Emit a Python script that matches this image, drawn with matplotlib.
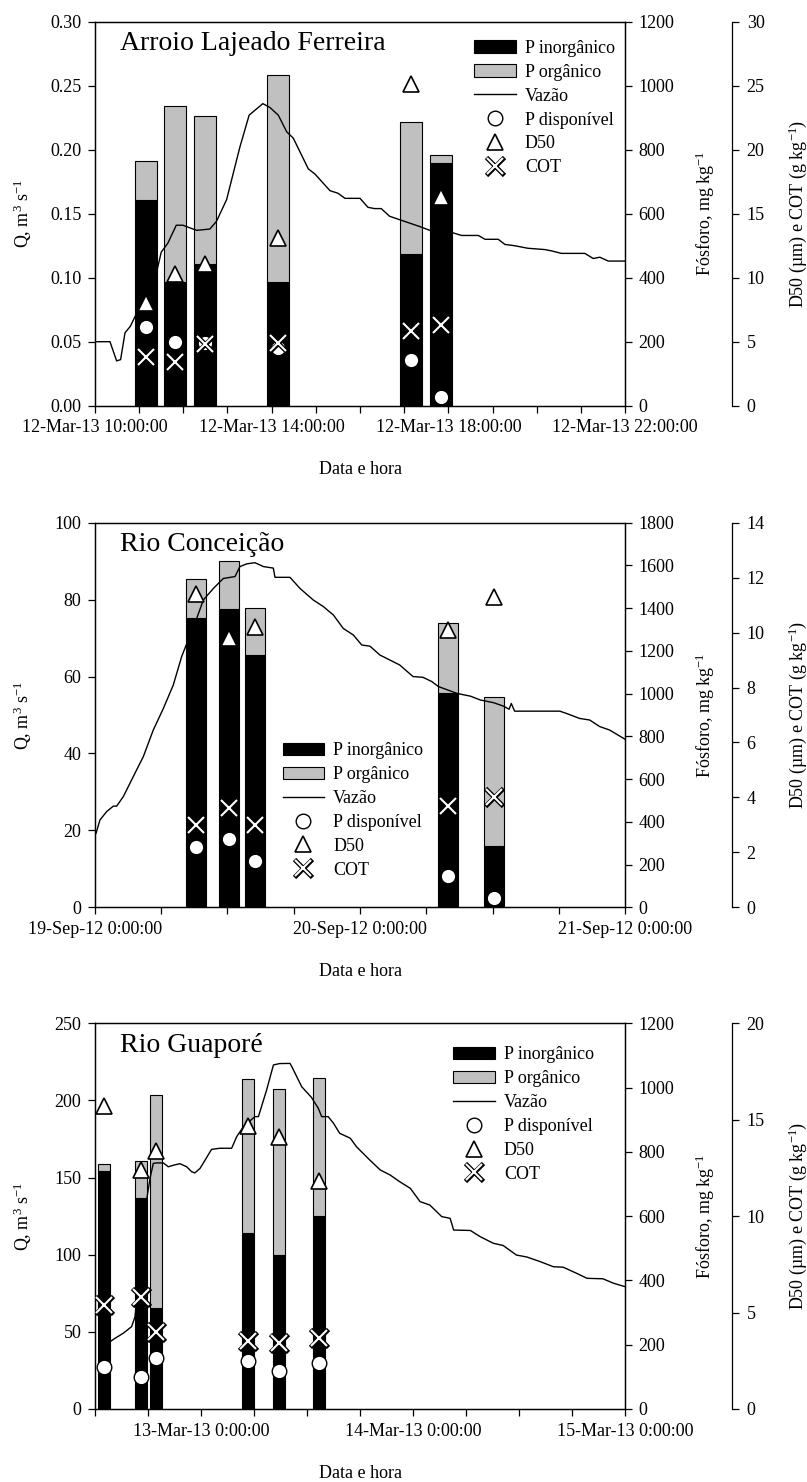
import matplotlib
matplotlib.use('Agg')
import matplotlib.pyplot as plt
import numpy as np

plt.rcParams['font.family'] = ['Liberation Serif', 'DejaVu Serif']
plt.rcParams['mathtext.fontset'] = 'custom'
plt.rcParams['mathtext.rm'] = 'Liberation Serif'
plt.rcParams['mathtext.it'] = 'Liberation Serif:italic'
plt.rcParams['mathtext.bf'] = 'Liberation Serif:bold'
plt.rcParams['font.size'] = 13
plt.rcParams['axes.linewidth'] = 0.9

# ---------------- Arroio Lajeado Ferreira (horas desde 12-Mar-13 10:00) ----------------
alf_t_q = [0, 0.34, 0.49, 0.58, 0.68, 0.8, 1.4, 1.5, 1.65, 1.84, 1.99, 2.3, 2.6, 2.75, 2.98,
           3.28, 3.49, 3.8, 3.96, 4.15, 4.34, 4.49, 4.83, 4.98, 5.32, 5.5, 5.66, 6.0, 6.18,
           6.33, 6.48, 6.67, 7.35, 7.58, 8.11, 8.3, 8.68, 8.83, 9.13, 9.28, 9.5, 9.8, 10.18,
           10.33, 10.56, 11.09, 11.28, 11.43, 11.62, 12.0]
alf_q = [0.050, 0.050, 0.035, 0.036, 0.057, 0.062, 0.105, 0.120, 0.127, 0.141, 0.141, 0.137,
         0.138, 0.144, 0.161, 0.202, 0.227, 0.236, 0.233, 0.227, 0.214, 0.209, 0.185, 0.181,
         0.168, 0.166, 0.162, 0.162, 0.155, 0.154, 0.154, 0.148, 0.140, 0.137, 0.135, 0.133,
         0.133, 0.130, 0.130, 0.126, 0.125, 0.123, 0.122, 0.121, 0.119, 0.119, 0.115, 0.116,
         0.113, 0.113]
alf_t = [1.16, 1.82, 2.49, 4.15, 7.16, 7.83]
alf_p_inorg = [642, 388, 443, 388, 474, 757]
alf_p_org = [123, 549, 463, 645, 414, 26]
alf_p_disp = [245, 200, 195, 179, 143, 28]
alf_d50 = [8.0, 10.3, 11.1, 13.1, 25.1, 16.3]
alf_cot = [3.8, 3.4, 4.8, 4.9, 5.8, 6.3]
alf_xticks = list(range(0, 13))
alf_xlabels = ['12-Mar-13 10:00:00', '', '', '', '12-Mar-13 14:00:00', '', '', '',
               '12-Mar-13 18:00:00', '', '', '', '12-Mar-13 22:00:00']

# ---------------- Rio Conceição (horas desde 19-Sep-12 0:00) ----------------
rc_t_q = [0.09, 0.45, 1.06, 1.66, 1.96, 2.57, 3.47, 4.38, 5.28, 6.19, 7.09, 7.85, 9.21, 9.81,
          10.72, 11.62, 12.68, 13.13, 13.74, 14.49, 15.25, 16.15, 16.3, 17.66, 18.57, 19.77,
          20.68, 21.59, 22.49, 23.4, 24.16, 24.9, 25.8, 26.7, 27.6, 28.8, 29.7, 30.5, 31.1,
          32.8, 34.0, 34.9, 36.1, 37.0, 37.5, 37.7, 38.0, 42.1, 42.7, 43.9, 44.8, 45.7, 46.6, 48.0]
rc_q = [19.2, 22.7, 24.9, 26.3, 26.3, 28.8, 34.0, 39.2, 46.1, 51.7, 57.8, 65.2, 75.1, 79.9,
        82.9, 85.5, 86.0, 88.6, 89.3, 89.6, 88.6, 88.2, 85.8, 85.8, 82.9, 79.9, 78.2, 76.0,
        72.5, 70.8, 68.2, 67.9, 65.6, 64.3, 63.0, 60.0, 59.8, 58.7, 57.4, 55.6, 54.9, 53.9,
        53.2, 52.3, 51.5, 53.0, 51.0, 51.0, 50.4, 49.1, 48.7, 47.0, 46.1, 43.7]
rc_t = [9.12, 12.11, 14.47, 31.97, 36.14]
rc_p_inorg = [1352, 1398, 1179, 1001, 287]
rc_p_org = [183, 224, 220, 331, 699]
rc_p_disp = [284, 318, 217, 147, 45]
rc_d50 = [11.4, 9.8, 10.2, 10.1, 11.3]
rc_cot = [3.0, 3.6, 3.0, 3.7, 4.0]
rc_xticks = list(range(0, 49, 6))
rc_xlabels = ['19-Sep-12 0:00:00', '', '', '', '20-Sep-12 0:00:00', '', '', '',
              '21-Sep-12 0:00:00']

# ---------------- Rio Guaporé (horas desde 12-Mar-13 12:00) ----------------
rg_t_q = [1.0, 1.7, 2.26, 3.2, 4.15, 4.53, 5.85, 6.23, 6.6, 6.98, 7.74, 8.3, 8.87, 9.62, 10.38,
          10.94, 11.3, 11.9, 13.2, 14.15, 15.47, 16.04, 16.8, 18.1, 18.5, 19.43, 20.2, 20.9,
          22.08, 22.27, 23.4, 24.5, 25.28, 25.66, 26.4, 27.0, 27.7, 28.9, 29.6, 31.1, 32.3,
          33.4, 34.5, 35.7, 36.8, 37.9, 39.25, 40.2, 40.6, 42.5, 43.6, 45.1, 46.2, 47.7, 48.9,
          50.4, 51.9, 53.0, 54.5, 55.7, 57.5, 58.7, 60.0]
rg_q = [42, 43.6, 45.8, 49.1, 53.4, 59.8, 135.5, 149.5, 159.2, 159.5, 159.5, 157, 158, 159,
        157, 153.8, 153, 156, 168.3, 169, 169, 176.5, 183, 189.5, 189.5, 206.8, 223, 223.9,
        224, 222, 208.9, 202, 194.9, 189.5, 189.5, 185.2, 178.7, 175.5, 170, 161.4, 154.9,
        151.7, 147.3, 143, 134.4, 132.2, 124.7, 123.6, 116, 115.7, 111.7, 107.4, 106, 99.8,
        98.5, 95.5, 92.2, 91.9, 88, 84.7, 84.4, 81.5, 79.3]
rg_t = [1.04, 5.19, 6.89, 17.36, 20.87, 25.38]
rg_p_inorg = [740, 657, 313, 549, 479, 600]
rg_p_org = [21, 116, 665, 479, 516, 429]
rg_p_disp = [130, 101, 158, 149, 119, 142]
rg_d50 = [15.7, 12.4, 13.4, 14.7, 14.1, 11.8]
rg_cot = [5.4, 5.8, 4.0, 3.5, 3.4, 3.7]
rg_xticks = list(range(0, 61, 6))
rg_xlabels = ['', '', '13-Mar-13 0:00:00', '', '', '', '14-Mar-13 0:00:00', '', '', '',
              '15-Mar-13 0:00:00']

rotulos = ['P inorgânico', 'P orgânico', 'Vazão', 'P disponível', 'D50', 'COT']

fig = plt.figure(figsize=(8.07, 14.82), dpi=100)


def painel(pos, titulo, t_q, q, t, p_inorg, p_org, p_disp, d50, cot, largura,
           q_max, q_step, q_fmt, p_max, d_max, d_step, x_max, xticks, xlabels, leg_xy):
    ax1 = fig.add_axes(pos)
    ax2 = ax1.twinx()
    ax3 = ax1.twinx()
    # barras atras da linha de vazao, marcadores por cima
    ax2.set_zorder(1)
    ax1.set_zorder(2)
    ax3.set_zorder(3)
    ax1.patch.set_visible(False)

    b1 = ax2.bar(t, p_inorg, largura, color='black', edgecolor='black', lw=0.8)
    b2 = ax2.bar(t, p_org, largura, bottom=p_inorg, color='#c0c0c0', edgecolor='black', lw=0.8)
    circ, = ax2.plot(t, p_disp, 'o', ms=10.5, mfc='white', mec='black', mew=1)
    linha, = ax1.plot(t_q, q, color='black', lw=1)
    tri, = ax3.plot(t, d50, '^', ms=12, mfc='white', mec='black', mew=1.2)
    xf, = ax3.plot(t, cot, 'x', ms=12.5, mec='black', mew=3.4)
    xb, = ax3.plot(t, cot, 'x', ms=11.5, mec='white', mew=1.5)

    ax1.set_xlim(0, x_max)
    ax1.set_xticks(xticks)
    ax1.set_xticklabels(xlabels)
    ax1.set_ylim(0, q_max)
    ax1.set_yticks(np.arange(0, q_max + q_step / 2, q_step))
    ax1.yaxis.set_major_formatter(plt.FormatStrFormatter(q_fmt))
    ax2.set_ylim(0, p_max)
    ax2.set_yticks(np.arange(0, p_max + 1, 200))
    ax3.set_ylim(0, d_max)
    ax3.set_yticks(np.arange(0, d_max + 0.01, d_step))

    ax1.tick_params(direction='out', length=4.8, width=0.9, pad=5, labelsize=13,
                    top=False, right=False)
    ax2.tick_params(axis='y', direction='out', length=4.8, width=0.9, pad=5, labelsize=13)
    ax3.tick_params(axis='y', direction='out', length=4.8, width=0.9, pad=6, labelsize=13)

    ax3.spines['right'].set_position(('axes', 1.2013))
    for s in ['top', 'bottom', 'left']:
        ax3.spines[s].set_visible(False)

    ax1.set_ylabel('Q, m$^3$ s$^{-1}$', fontsize=13)
    ax1.yaxis.set_label_coords(-0.115, 0.5)
    ax2.set_ylabel('Fósforo, mg kg$^{-1}$', fontsize=13)
    ax2.yaxis.set_label_coords(1.13, 0.5)
    ax3.set_ylabel('D50 (µm) e COT (g kg$^{-1}$)', fontsize=13)
    ax3.yaxis.set_label_coords(1.304, 0.5)
    ax1.set_xlabel('Data e hora', fontsize=13)
    ax1.xaxis.set_label_coords(0.5, -0.144)

    ax1.text(0.047, 0.926, titulo, transform=ax1.transAxes, fontsize=20, va='baseline')

    ax3.legend([b1, b2, linha, circ, tri, (xf, xb)], rotulos, loc='upper left',
               bbox_to_anchor=leg_xy, frameon=False, borderpad=0, borderaxespad=0,
               handlelength=2.3, handletextpad=0.5, labelspacing=0.38, numpoints=1,
               fontsize=13)


painel([0.1177, 0.72625, 0.6568, 0.2591], 'Arroio Lajeado Ferreira', alf_t_q, alf_q, alf_t,
       alf_p_inorg, alf_p_org, alf_p_disp, alf_d50, alf_cot, 0.5,
       0.30, 0.05, '%.2f', 1200, 30, 5, 12, alf_xticks, alf_xlabels, (0.7157, 0.9524))

painel([0.1177, 0.38779, 0.6568, 0.2595], 'Rio Conceição', rc_t_q, rc_q, rc_t,
       rc_p_inorg, rc_p_org, rc_p_disp, rc_d50, rc_cot, 1.8,
       100, 20, '%d', 1800, 14, 2, 48, rc_xticks, rc_xlabels, (0.354, 0.429))

painel([0.1177, 0.04926, 0.6568, 0.26026], 'Rio Guaporé', rg_t_q, rg_q, rg_t,
       rg_p_inorg, rg_p_org, rg_p_disp, rg_d50, rg_cot, 1.33,
       250, 50, '%d', 1200, 20, 5, 60, rg_xticks, rg_xlabels, (0.676, 0.940))

fig.savefig('out.png', dpi=100)
